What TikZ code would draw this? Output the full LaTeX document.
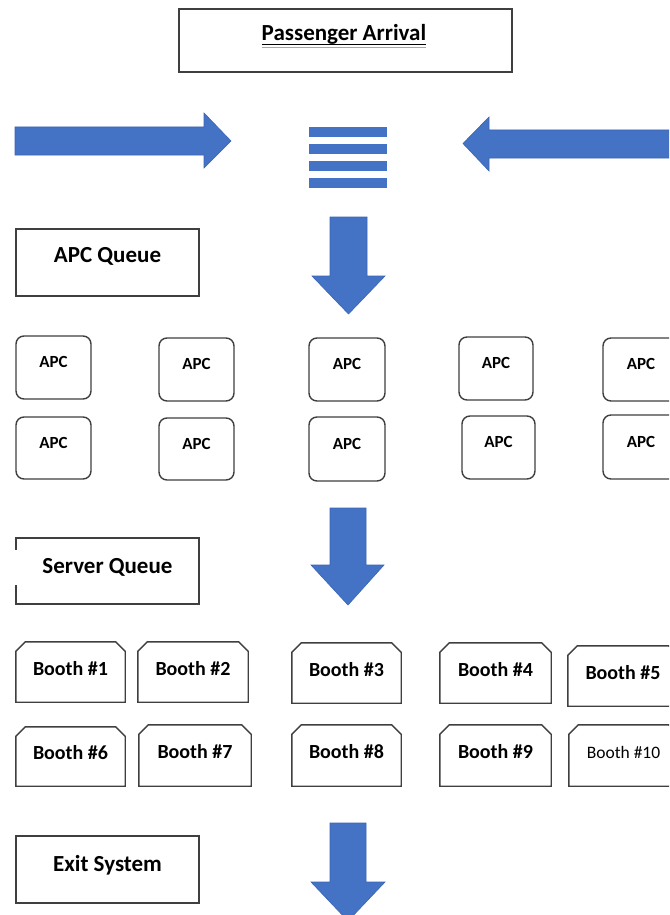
\documentclass[tikz,border=0pt]{standalone}
\usepackage{fontspec}
\setmainfont{Carlito}
\usetikzlibrary{calc}
\definecolor{arrowblue}{HTML}{4472C4}
\definecolor{arrowedge}{HTML}{3A65B5}
\definecolor{boxline}{HTML}{3F3F3F}
\definecolor{ulblue}{HTML}{8EA9DB}
\newcommand\lblfont{\fontsize{23}{27}\selectfont\bfseries}
\newcommand\boothfont{\fontsize{20}{24}\selectfont\bfseries}
\newcommand\apcfont{\fontsize{17}{20}\selectfont\bfseries}
\begin{document}
\begin{tikzpicture}[x=1pt,y=-1pt,
  plainbox/.style={draw=boxline,line width=1.5pt,rectangle,inner sep=0pt,
                   text height=8pt,text depth=8pt,font=\lblfont},
  apcbox/.style={draw=boxline,line width=1.4pt,rectangle,rounded corners=8pt,inner sep=0pt,
                 text height=6pt,text depth=6pt,font=\apcfont},
  boothbox/.style={rectangle,inner sep=0pt,text height=11pt,text depth=5pt,font=\boothfont},
  boothline/.style={draw=boxline,line width=1.4pt,line join=miter},
  blockarrow/.style={fill=arrowblue,draw=arrowedge,line width=0.6pt,line join=miter},
  stripe/.style={fill=arrowblue}]
\useasboundingbox (0,0) rectangle (669,915);
\clip (0,0) rectangle (669,915);
\fill[white] (0,0) rectangle (669,915);

% Passenger arrival
\node[plainbox,line width=1.8pt,minimum width=333pt,minimum height=63pt] (pa) at (345.5,40.5) {};
\node[anchor=base,inner sep=0pt,font=\lblfont] (pat) at (344,41) {Passenger Arrival};
\draw[black,line width=1.2pt] ($(pat.base west)+(0,3.4)$) -- ($(pat.base east)+(0,3.4)$);
\draw[ulblue,line width=1pt] ($(pat.base west)+(0,6.8)$) -- ($(pat.base east)+(0,6.8)$);

% side arrows and queue icon
\path[blockarrow] (15,127) -- (204,127) -- (204,113) -- (231,141) -- (204,168) -- (204,155) -- (15,155) -- cycle;
\path[blockarrow] (675,130) -- (489,130) -- (489,117) -- (463,143.5) -- (489,171) -- (489,158) -- (675,158) -- cycle;
\fill[stripe] (309,127) rectangle (387,137);
\fill[stripe] (309,144) rectangle (387,154);
\fill[stripe] (309,161) rectangle (387,171);
\fill[stripe] (309,177.5) rectangle (387,188);

% APC queue
\node[plainbox,minimum width=183pt,minimum height=67pt] (apcq) at (107.5,262.5) {APC Queue};
\path[blockarrow] (330,217) -- (367,217) -- (367,276) -- (385,276) -- (348.5,314) -- (312,276) -- (330,276) -- cycle;

% APC machines
\node[apcbox,minimum width=75pt,minimum height=63pt] (a1) at (53.5,367.5) {APC};
\node[apcbox,minimum width=75pt,minimum height=63pt] (a2) at (196.5,369.5) {APC};
\node[apcbox,minimum width=76pt,minimum height=63pt] (a3) at (347,369.5) {APC};
\node[apcbox,minimum width=74pt,minimum height=63pt] (a4) at (496,368.5) {APC};
\node[apcbox,minimum width=76pt,minimum height=63pt] (a5) at (641,369.5) {APC};
\node[apcbox,minimum width=75pt,minimum height=62pt] (a6) at (53.5,448) {APC};
\node[apcbox,minimum width=75pt,minimum height=62pt] (a7) at (196.5,449) {APC};
\node[apcbox,minimum width=76pt,minimum height=64pt] (a8) at (347,449) {APC};
\node[apcbox,minimum width=73pt,minimum height=63pt] (a9) at (498.5,447.5) {APC};
\node[apcbox,minimum width=76pt,minimum height=64pt] (a10) at (641,447) {APC};

% Server queue
\node[rectangle,inner sep=0pt,text height=10pt,text depth=6pt,font=\lblfont,
      minimum width=183pt,minimum height=66pt] (sq) at (107.5,571) {Server Queue};
\draw[boxline,line width=1.5pt,line join=miter]
  ($(sq.north west)+(0,12)$) -- (sq.north west) -- (sq.north east) -- (sq.south east)
  -- (sq.south west) -- ($(sq.south west)+(0,-19)$);
\path[blockarrow] (330,508) -- (366,508) -- (366,565) -- (384,565) -- (348,605) -- (311,565) -- (330,565) -- cycle;

% Booths
\node[boothbox,minimum width=109pt,minimum height=60pt] (b1) at (70.5,672) {Booth \#1};
\node[boothbox,minimum width=110pt,minimum height=60pt] (b2) at (193,672) {Booth \#2};
\node[boothbox,minimum width=109pt,minimum height=60pt] (b3) at (346.5,673) {Booth \#3};
\node[boothbox,minimum width=111pt,minimum height=60pt] (b4) at (495.5,673) {Booth \#4};
\node[boothbox,minimum width=110pt,minimum height=60pt] (b5) at (623,676) {Booth \#5};
\node[boothbox,minimum width=109pt,minimum height=59pt] (b6) at (70.5,756.5) {Booth \#6};
\node[boothbox,minimum width=112pt,minimum height=61pt] (b7) at (195,755.5) {Booth \#7};
\node[boothbox,minimum width=109pt,minimum height=61pt] (b8) at (346.5,755.5) {Booth \#8};
\node[boothbox,minimum width=111pt,minimum height=61pt] (b9) at (495.5,755.5) {Booth \#9};
\node[boothbox,minimum width=109pt,minimum height=61pt,
      font=\fontsize{17.5}{21}\selectfont] (b10) at (623.5,755.5) {Booth \#10};
\foreach \b in {b1,b2,b3,b4,b5,b6,b7,b8,b9,b10}{
  \draw[boothline] (\b.south west) -- ($(\b.north west)+(0,9.5)$) -- ($(\b.north west)+(9.5,0)$)
    -- ($(\b.north east)+(-9.5,0)$) -- ($(\b.north east)+(0,9.5)$) -- (\b.south east) -- cycle;
}

% Exit
\node[plainbox,minimum width=183pt,minimum height=67pt,text height=9.5pt,text depth=6.5pt] (ex) at (107.5,869.5) {Exit System};
\path[blockarrow] (330,823) -- (366,823) -- (366,882) -- (385,882) -- (348,921) -- (311,882) -- (330,882) -- cycle;
\end{tikzpicture}
\end{document}
